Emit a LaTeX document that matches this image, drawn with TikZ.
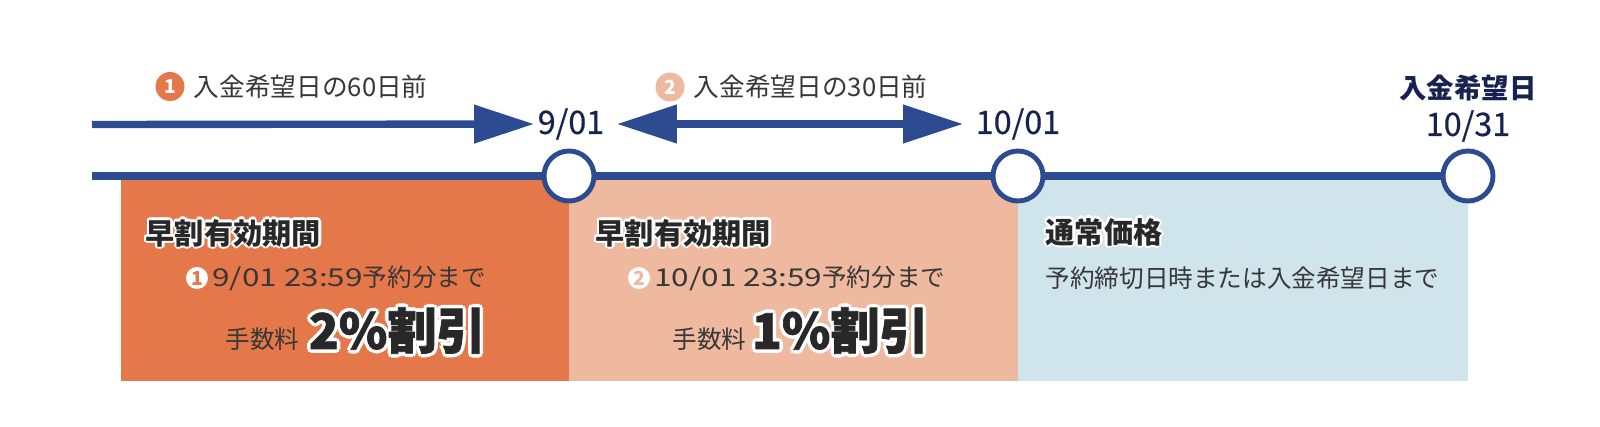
\documentclass[tikz,border=0pt]{standalone}
\usepackage{fontspec}
\setmainfont{Noto Sans CJK JP}
\newfontfamily\datefont{Noto Sans CJK JP}[FakeBold=0.5]
\newfontfamily\heavyfont{Noto Sans CJK JP}[BoldFeatures={FakeBold=1.5}]
\usetikzlibrary{positioning, arrows.meta}
\definecolor{LineBlue}{RGB}{45, 75, 145}
\definecolor{DateNavy}{RGB}{22, 34, 80}
\definecolor{EarlyOrange}{RGB}{228, 120, 74}
\definecolor{EarlySalmon}{RGB}{239, 185, 160}
\definecolor{NormalBlue}{RGB}{207, 228, 235}
\definecolor{TextGray}{RGB}{55, 55, 55}
\definecolor{HeadGray}{RGB}{40, 40, 40}

% white outline behind text
\newdimen\halow
\newcommand{\halocopy}[3]{\makebox[0pt][l]{\hspace*{#1}\raisebox{#2}[0pt][0pt]{\color{white}#3}}}
\newcommand{\halo}[2]{\halow=#1\relax
  \halocopy{\halow}{0pt}{#2}\halocopy{-\halow}{0pt}{#2}%
  \halocopy{0pt}{\halow}{#2}\halocopy{0pt}{-\halow}{#2}%
  \halocopy{0.7\halow}{0.7\halow}{#2}\halocopy{-0.7\halow}{0.7\halow}{#2}%
  \halocopy{0.7\halow}{-0.7\halow}{#2}\halocopy{-0.7\halow}{-0.7\halow}{#2}#2}
% wider digits
\newcommand{\widenum}[1]{\scalebox{1.28}[1]{#1}}

\tikzset{
  timeline/.style={line width=2.1pt, LineBlue},
  span/.style={line width=2.1pt, LineBlue, shorten >=1.2mm, shorten <=1.2mm},
  datemark/.style={circle, draw=LineBlue, line width=1.4pt, fill=white, minimum size=5mm, inner sep=0pt},
  datelabel/.style={text=DateNavy, font=\datefont\fontsize{9.2}{10}\selectfont, inner sep=0pt},
  numdot/.style={circle, inner sep=0pt, minimum size=2.9mm, text=white, font=\fontsize{5.5}{6}\selectfont\bfseries},
  smalldot/.style={circle, inner sep=0pt, minimum size=2.2mm, fill=white, font=\fontsize{5.5}{6}\selectfont\bfseries},
  toplabel/.style={text=TextGray, font=\fontsize{7.3}{8}\selectfont, inner sep=0pt},
  boxhead/.style={text=HeadGray, font=\fontsize{8.3}{9}\selectfont\bfseries, inner sep=0pt, anchor=west},
  boxsub/.style={text=TextGray, font=\fontsize{7}{8}\selectfont, inner sep=0pt},
  feelabel/.style={text=TextGray, font=\fontsize{7}{8}\selectfont, inner sep=0pt, anchor=base west},
  bigrate/.style={text=HeadGray, font=\heavyfont\fontsize{14}{15}\selectfont\bfseries, inner sep=0pt}
}

\begin{document}
\begin{tikzpicture}[x=0.1mm, y=-0.1mm]
  \useasboundingbox (0,0) rectangle (1600,427);

  % Periods
  \fill[EarlyOrange] (121,180) rectangle (569,381);
  \fill[EarlySalmon] (569,180) rectangle (1018,381);
  \fill[NormalBlue] (1018,180) rectangle (1468,381);

  % Dates
  \node[datelabel] (d1) at (571,124) {9/01};
  \node[datelabel] (d2) at (1018,124) {10/01};
  \node[datelabel] (d3) at (1468,126) {10/31};
  \node[datelabel, font=\fontsize{7.8}{9}\selectfont\bfseries, above=0.8mm of d3] (dl) {入金希望日};

  % Arrows
  \coordinate (s0) at (92,124.5);
  \draw[span, shorten <=0pt, shorten >=0.3mm, -{Triangle[length=6mm, width=3.7mm]}] (s0) -- (d1);
  \draw[span, {Triangle[length=6mm, width=3.7mm]}-{Triangle[length=6mm, width=3.7mm]}] (d1) -- (d2);

  \node[numdot, fill=EarlyOrange] (n1) at (170,86.5) {1};
  \node[toplabel, right=0.8mm of n1] (l1) {入金希望日の60日前};
  \node[numdot, fill=EarlySalmon] (n2) at (670,87) {2};
  \node[toplabel, right=0.8mm of n2] (l2) {入金希望日の30日前};

  % Timeline
  \node[datemark] (c1) at (569,176) {};
  \node[datemark] (c2) at (1018,176) {};
  \node[datemark] (c3) at (1468,176) {};
  \coordinate (t0) at (92,176);
  \draw[timeline] (t0) -- (c1) (c1) -- (c2) (c2) -- (c3);

  % Early booking, 60 days
  \node[boxhead] (h1) at (145,233) {\halo{0.7pt}{早割有効期間}};
  \node[smalldot, text=EarlyOrange] (m1) at (197,278) {1};
  \node[boxsub, right=0.3mm of m1] (p1) {\widenum{9/01 23:59}予約分まで};
  \node[feelabel] (f1) at (225,349) {手数料};
  \node[bigrate, base right=0.8mm of f1] (r1) {\halo{1pt}{2\%割引}};

  % Early booking, 30 days
  \node[boxhead] (h2) at (595,233) {\halo{0.7pt}{早割有効期間}};
  \node[smalldot, text=EarlySalmon] (m2) at (639,278) {2};
  \node[boxsub, right=0.3mm of m2] (p2) {\widenum{10/01 23:59}予約分まで};
  \node[feelabel] (f2) at (672,349) {手数料};
  \node[bigrate, base right=0.4mm of f2] (r2) {\halo{1pt}{1\%割引}};

  % Regular price
  \node[boxhead] (h3) at (1045,232) {\halo{0.7pt}{通常価格}};
  \node[boxsub, anchor=west] (p3) at (1045,278) {予約締切日時または入金希望日まで};
\end{tikzpicture}
\end{document}
